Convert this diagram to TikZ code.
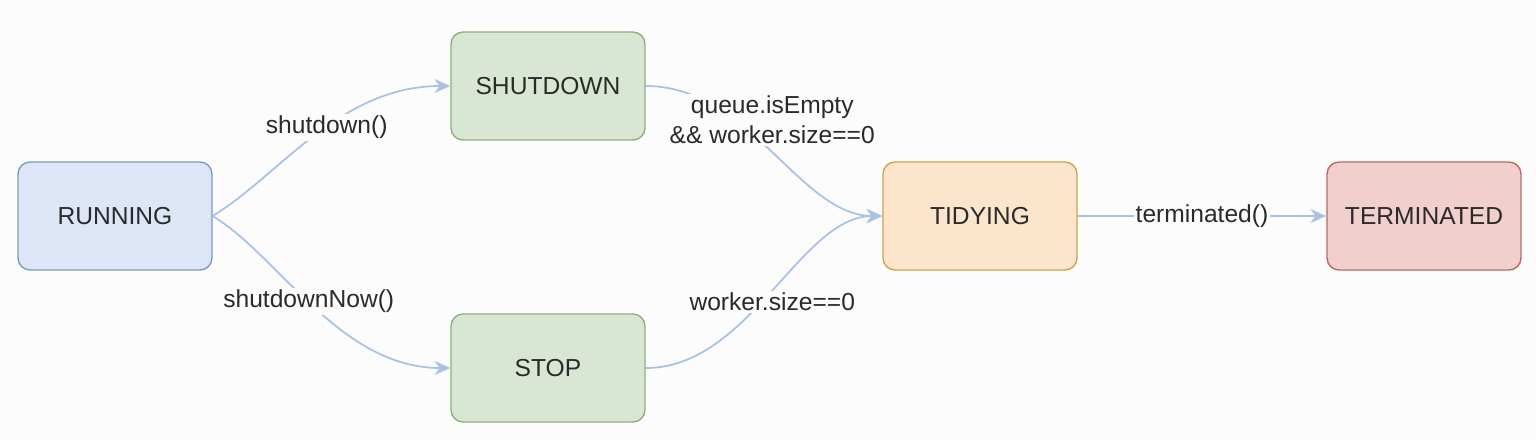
\documentclass[tikz,border=0pt]{standalone}
\usepackage{fontspec}
\setmainfont{Liberation Sans}
\usetikzlibrary{arrows.meta}

\definecolor{runfill}{HTML}{DCE6F7}
\definecolor{rundraw}{HTML}{7C98C6}
\definecolor{greenfill}{HTML}{D8E6D3}
\definecolor{greendraw}{HTML}{8DB077}
\definecolor{tidyfill}{HTML}{FBE5CC}
\definecolor{tidydraw}{HTML}{D2A24A}
\definecolor{termfill}{HTML}{F0CFCD}
\definecolor{termdraw}{HTML}{B86A66}
\definecolor{arrowcol}{HTML}{A9C2E4}
\definecolor{textcol}{HTML}{2A2A2A}
\definecolor{bgcol}{HTML}{FCFCFC}

\tikzset{
    state/.style={draw, rounded corners=0.24cm, minimum width=3.88cm, minimum height=2.16cm, line width=0.8pt, font=\fontsize{14}{16}\selectfont, text=textcol},
    trans/.style={draw=arrowcol, line width=1pt, -{Stealth[length=9pt, width=8pt]}},
    guard/.style={fill=bgcol, inner sep=1pt, font=\fontsize{14}{17}\selectfont, text=textcol, align=center}
}

\begin{document}
\begin{tikzpicture}[x=0.02cm, y=-0.02cm]
    % Background
    \fill[bgcol] (0,0) rectangle (1536,440);
    \useasboundingbox (0,0) rectangle (1536,440);

    % Place the states
    \node[state, fill=runfill, draw=rundraw] (running) at (115,216) {RUNNING};
    \node[state, fill=greenfill, draw=greendraw] (shutdown) at (548,86) {SHUTDOWN};
    \node[state, fill=greenfill, draw=greendraw] (stop) at (548,368) {STOP};
    \node[state, fill=tidyfill, draw=tidydraw] (tidying) at (980,216) {TIDYING};
    \node[state, fill=termfill, draw=termdraw] (terminated) at (1424,216) {TERMINATED};

    % Draw the transitions
    \draw[trans] (running.east) .. controls (280,175) and (340,86) .. (shutdown.west)
        node[guard, pos=0.55] (lshutdown) {shutdown()};
    \draw[trans] (running.east) .. controls (280,257) and (340,368) .. (stop.west)
        node[guard, pos=0.47] (lshutdownnow) {shutdownNow()};
    \draw[trans] (shutdown.east) .. controls (750,86) and (800,216) .. (tidying.west)
        node[guard, pos=0.5, yshift=0.62cm] (lqueue) {queue.isEmpty\\\&\& worker.size==0};
    \draw[trans] (stop.east) .. controls (750,368) and (800,216) .. (tidying.west)
        node[guard, pos=0.5, yshift=-0.2cm] (lworker) {worker.size==0};
    \draw[trans] (tidying.east) -- (terminated.west)
        node[guard, midway] (lterm) {terminated()};

\end{tikzpicture}
\end{document}
